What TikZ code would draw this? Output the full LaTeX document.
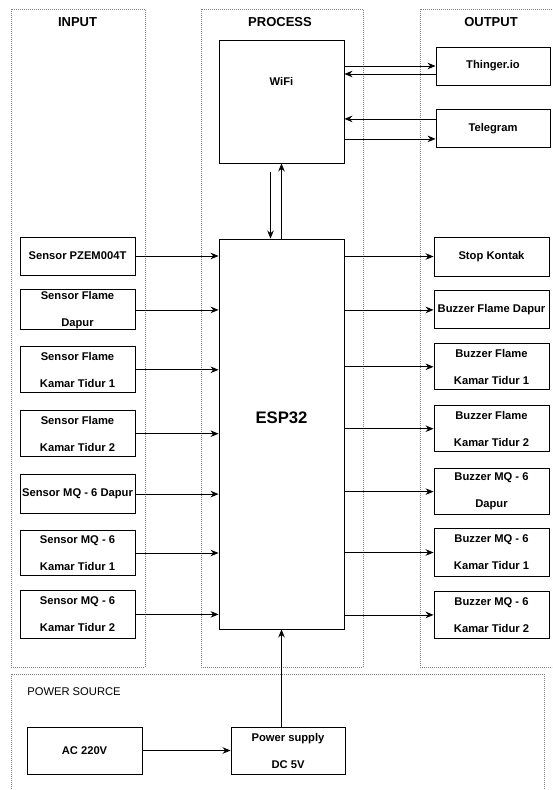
\documentclass[tikz,border=0pt]{standalone}
\usepackage{fontspec}
\setmainfont{Liberation Sans}
\usetikzlibrary{positioning, arrows.meta}
\tikzstyle{block} = [rectangle, draw=black, line width=0.9pt, minimum width=115pt, inner sep=0pt, text centered, align=center, font=\fontsize{11.2}{27}\selectfont\bfseries]
\tikzstyle{arrow} = [line width=0.8pt,->,>={Stealth[length=8pt,width=6.5pt]}]
\tikzstyle{panel} = [draw=gray, line width=0.5pt, dash pattern=on 1pt off 1pt]
\tikzstyle{title} = [font=\fontsize{13}{15}\selectfont\bfseries]

\begin{document}
\begin{tikzpicture}[x=1pt, y=-1pt, node distance=14pt]
        \useasboundingbox (0,0) rectangle (552,790);
        \clip (0,0) rectangle (552,790);

        % panels
        \draw [panel] (11,9) rectangle (145,667);
        \draw [panel] (201,9) rectangle (363,667);
        \draw [panel] (420,9) rectangle (560,667);
        \draw [panel] (11,674) rectangle (544,800);

        \node (tinput) [title] at (77.5,22) {INPUT};
        \node (tprocess) [title] at (280,22) {PROCESS};
        \node (toutput) [title] at (491,22) {OUTPUT};
        \node (tpower) [font=\fontsize{11.2}{13}\selectfont] at (74,692) {POWER SOURCE};

        \node (wifi) [block, minimum width=125pt, minimum height=123pt] at (281.5,101.5) {};
        \node (wifilbl) [block, draw=none, minimum width=0pt] at (281.5,81) {WiFi};
        \node (esp) [block, minimum width=125pt, minimum height=390pt] at (281.5,434) {};
        \node (esplbl) [font=\fontsize{16.7}{20}\selectfont\bfseries] at (281.5,418) {ESP32};

        \node (pzem) [block, minimum height=38pt] at (77.5,256) {Sensor PZEM004T};
        \node (fdapur) [block, minimum height=40pt, below=14pt of pzem] {Sensor Flame\\Dapur};
        \node (fkt1) [block, minimum height=46pt, below=16pt of fdapur] {Sensor Flame\\Kamar Tidur 1};
        \node (fkt2) [block, minimum height=46pt, below=17pt of fkt1] {Sensor Flame\\Kamar Tidur 2};
        \node (mqdapur) [block, minimum height=39pt, below=17pt of fkt2] {Sensor MQ - 6 Dapur};
        \node (mqkt1) [block, minimum height=45pt, below=16pt of mqdapur] {Sensor MQ - 6\\Kamar Tidur 1};
        \node (mqkt2) [block, minimum height=48pt, below=14pt of mqkt1] {Sensor MQ - 6\\Kamar Tidur 2};

        \node (thinger) [block, minimum width=114pt, minimum height=38pt] at (493,66) {Thinger.io};
        \node (telegram) [block, minimum width=114pt, minimum height=38pt, below=24pt of thinger] {Telegram};

        \node (stop) [block, minimum height=39pt] at (491.5,256.5) {Stop Kontak};
        \node (bfdapur) [block, minimum height=38pt, below=14pt of stop] {Buzzer Flame Dapur};
        \node (bfkt1) [block, minimum height=46pt, below=14pt of bfdapur] {Buzzer Flame\\Kamar Tidur 1};
        \node (bfkt2) [block, minimum height=46pt, below=15pt of bfkt1] {Buzzer Flame\\Kamar Tidur 2};
        \node (bmqdapur) [block, minimum height=46pt, below=16pt of bfkt2] {Buzzer MQ - 6\\Dapur};
        \node (bmqkt1) [block, minimum height=48pt, below=13pt of bmqdapur] {Buzzer MQ - 6\\Kamar Tidur 1};
        \node (bmqkt2) [block, minimum height=47pt, below=14pt of bmqkt1] {Buzzer MQ - 6\\Kamar Tidur 2};

        \node (ac) [block, minimum height=47pt] at (84.5,750.5) {AC 220V};
        \node (psu) [block, minimum width=114pt, minimum height=47pt] at (288,750.5) {Power supply\\DC 5V};

        \coordinate (thin) at ([yshift=-8pt]thinger.west);
        \coordinate (tgin) at ([yshift=10pt]telegram.west);
        \coordinate (tgout) at ([yshift=-10pt]telegram.west);
        \coordinate (wdown) at ([xshift=-11pt,yshift=-9pt]wifi.south);

        \draw [arrow] (wifi.east |- thinger.west) -- (thinger.west);
        \draw [arrow] (thin) -- (wifi.east |- thin);
        \draw [arrow] (tgin) -- (wifi.east |- tgin);
        \draw [arrow] (wifi.east |- tgout) -- (tgout);
        \draw [arrow] (wdown) -- (esp.north -| wdown);
        \draw [arrow] (esp.north) -- (wifi.south);

        \draw [arrow] (pzem.east) -- (esp.west |- pzem.east);
        \draw [arrow] (fdapur.east) -- (esp.west |- fdapur.east);
        \draw [arrow] (fkt1.east) -- (esp.west |- fkt1.east);
        \draw [arrow] (fkt2.east) -- (esp.west |- fkt2.east);
        \draw [arrow] (mqdapur.east) -- (esp.west |- mqdapur.east);
        \draw [arrow] (mqkt1.east) -- (esp.west |- mqkt1.east);
        \draw [arrow] (mqkt2.east) -- (esp.west |- mqkt2.east);

        \draw [arrow] (esp.east |- stop.west) -- (stop.west);
        \draw [arrow] (esp.east |- bfdapur.west) -- (bfdapur.west);
        \draw [arrow] (esp.east |- bfkt1.west) -- (bfkt1.west);
        \draw [arrow] (esp.east |- bfkt2.west) -- (bfkt2.west);
        \draw [arrow] (esp.east |- bmqdapur.west) -- (bmqdapur.west);
        \draw [arrow] (esp.east |- bmqkt1.west) -- (bmqkt1.west);
        \draw [arrow] (esp.east |- bmqkt2.west) -- (bmqkt2.west);

        \draw [arrow] (ac) -- (psu);
        \draw [arrow] (psu.north -| esp.south) -- (esp.south);
\end{tikzpicture}
\end{document}
